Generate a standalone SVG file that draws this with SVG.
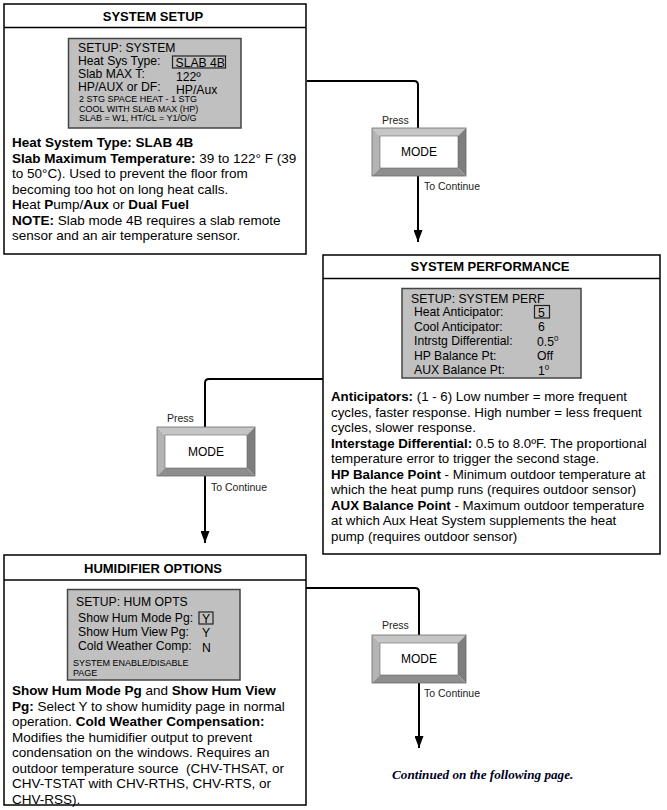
<svg xmlns="http://www.w3.org/2000/svg" width="667" height="810" viewBox="0 0 667 810">
<style>
text{font-family:"Liberation Sans",Arial,sans-serif;fill:#000}
.box{fill:#fff;stroke:#000;stroke-width:1.5}
.lcd{fill:#c0c0c0;stroke:#444;stroke-width:1.5}
.sel{fill:none;stroke:#222;stroke-width:1.2}
.ttl{font-size:13px;font-weight:bold;text-anchor:middle}
.body{font-size:13.5px}
.bodyp{font-size:13.3px}
.b{font-weight:bold}
.l{font-size:12.2px}
.s{font-size:9px}
.lab{font-size:10.5px;fill:#222}
.mode{font-size:12px;text-anchor:middle}
.bt{fill:#c6c6c6}.bl{fill:#b4b4b4}.br{fill:#7e7e7e}.bb{fill:#8e8e8e}
.bo{fill:none;stroke:#6a6a6a;stroke-width:0.8}
.bi{fill:#fff;stroke:#666;stroke-width:0.6}
.conn{fill:none;stroke:#000;stroke-width:2}
.cont{font-family:"Liberation Serif","Times New Roman",serif;font-size:13.2px;font-weight:bold;font-style:italic;fill:#000022}
</style>
<defs>
<marker id="arr" markerUnits="userSpaceOnUse" markerWidth="9" markerHeight="12" refX="4.5" refY="12" orient="0" viewBox="0 0 9 12">
<path d="M0,0 L9,0 L4.5,12 Z" fill="#000"/>
</marker>
</defs>

<g id="connectors">
<path class="conn" d="M307 81 H414 Q418 81 418 85 V242" marker-end="url(#arr)"/>
<path class="conn" d="M323 379 H209 Q205 379 205 383 V543" marker-end="url(#arr)"/>
<path class="conn" d="M306 588 H415 Q419 588 419 592 V748" marker-end="url(#arr)"/>
</g>

<g id="system-setup">
<rect class="box" x="4" y="4" width="302" height="250"/>
<line x1="4" y1="27.5" x2="306" y2="27.5" stroke="#000" stroke-width="1.5"/>
<text class="ttl" x="153" y="21">SYSTEM SETUP</text>
<rect class="lcd" x="68.5" y="38.5" width="172.5" height="89.5"/>
<text class="l" x="78" y="52">SETUP: SYSTEM</text>
<text class="l" x="78" y="65">Heat Sys Type:</text>
<rect class="sel" x="172.5" y="56" width="53" height="12"/>
<text class="l" x="175.5" y="66.5">SLAB 4B</text>
<text class="l" x="78" y="78">Slab MAX T:</text>
<text class="l" x="176" y="81">122º</text>
<text class="l" x="78" y="90.5">HP/AUX or DF:</text>
<text class="l" x="176" y="93.5">HP/Aux</text>
<text class="s" x="79" y="102">2 STG SPACE HEAT - 1 STG</text>
<text class="s" x="79" y="111.5">COOL WITH SLAB MAX (HP)</text>
<text class="s" x="79" y="121">SLAB = W1, HT/CL = Y1/O/G</text>
<text class="body" x="12" y="147"><tspan class="b">Heat System Type: SLAB 4B</tspan></text>
<text class="body" x="12" y="162.5"><tspan class="b">Slab Maximum Temperature:</tspan> 39 to 122° F (39</text>
<text class="body" x="12" y="178">to 50°C). Used to prevent the floor from</text>
<text class="body" x="12" y="193.5">becoming too hot on long heat calls.</text>
<text class="body" x="12" y="209"><tspan class="b">H</tspan>eat <tspan class="b">P</tspan>ump/<tspan class="b">Aux</tspan> or <tspan class="b">Dual Fuel</tspan></text>
<text class="body" x="12" y="224.5"><tspan class="b">NOTE:</tspan> Slab mode 4B requires a slab remote</text>
<text class="body" x="12" y="240">sensor and an air temperature sensor.</text>
</g>

<g id="mode-button-1">
<polygon class="bt" points="372,128 466,128 458,136 380,136"/>
<polygon class="bl" points="372,128 380,136 380,168 372,176"/>
<polygon class="br" points="466,128 466,176 458,168 458,136"/>
<polygon class="bb" points="372,176 466,176 458,168 380,168"/>
<rect class="bo" x="372" y="128" width="94" height="48"/>
<rect class="bi" x="380" y="136" width="78" height="32"/>
<text class="mode" x="419" y="156">MODE</text>
<text class="lab" x="382" y="124">Press</text>
<text class="lab" x="424" y="190">To Continue</text>
</g>

<g id="system-performance">
<rect class="box" x="323" y="255" width="337" height="299"/>
<line x1="323" y1="278.5" x2="660" y2="278.5" stroke="#000" stroke-width="1.5"/>
<text class="ttl" x="490" y="271">SYSTEM PERFORMANCE</text>
<rect class="lcd" x="402" y="288.5" width="179" height="89.5"/>
<text class="l" x="411" y="303">SETUP: SYSTEM PERF</text>
<text class="l" x="414" y="316">Heat Anticipator:</text>
<rect class="sel" x="534.5" y="305.5" width="15" height="12.5"/>
<text class="l" x="538" y="316.5">5</text>
<text class="l" x="414" y="330.5">Cool Anticipator:</text>
<text class="l" x="538" y="331">6</text>
<text class="l" x="414" y="345">Intrstg Differential:</text>
<text class="l" x="537" y="345.5">0.5<tspan font-size="8" dy="-5">0</tspan></text>
<text class="l" x="414" y="359.5">HP Balance Pt:</text>
<text class="l" x="537" y="360">Off</text>
<text class="l" x="414" y="374">AUX Balance Pt:</text>
<text class="l" x="538" y="374.5">1<tspan font-size="8" dy="-5">0</tspan></text>
<text class="bodyp" x="331" y="401"><tspan class="b">Anticipators:</tspan> (1 - 6) Low number = more frequent</text>
<text class="bodyp" x="331" y="416.5">cycles, faster response. High number = less frequent</text>
<text class="bodyp" x="331" y="432">cycles, slower response.</text>
<text class="bodyp" x="331" y="447.5"><tspan class="b">Interstage Differential:</tspan> 0.5 to 8.0ºF. The proportional</text>
<text class="bodyp" x="331" y="463">temperature error to trigger the second stage.</text>
<text class="bodyp" x="331" y="478.5"><tspan class="b">HP Balance Point</tspan> - Minimum outdoor temperature at</text>
<text class="bodyp" x="331" y="494">which the heat pump runs (requires outdoor sensor)</text>
<text class="bodyp" x="331" y="509.5"><tspan class="b">AUX Balance Point</tspan> - Maximum outdoor temperature</text>
<text class="bodyp" x="331" y="525">at which Aux Heat System supplements the heat</text>
<text class="bodyp" x="331" y="540.5">pump (requires outdoor sensor)</text>
</g>

<g id="mode-button-2">
<polygon class="bt" points="157,427 255,427 247,435 165,435"/>
<polygon class="bl" points="157,427 165,435 165,468 157,476"/>
<polygon class="br" points="255,427 255,476 247,468 247,435"/>
<polygon class="bb" points="157,476 255,476 247,468 165,468"/>
<rect class="bo" x="157" y="427" width="98" height="49"/>
<rect class="bi" x="165" y="435" width="82" height="33"/>
<text class="mode" x="206" y="455.5">MODE</text>
<text class="lab" x="167" y="422">Press</text>
<text class="lab" x="211" y="491">To Continue</text>
</g>

<g id="humidifier-options">
<rect class="box" x="4" y="555" width="302" height="250"/>
<line x1="4" y1="580" x2="306" y2="580" stroke="#000" stroke-width="1.5"/>
<text class="ttl" x="153" y="573">HUMIDIFIER OPTIONS</text>
<rect class="lcd" x="67.5" y="589.5" width="172.5" height="90.5"/>
<text class="l" x="76" y="606">SETUP: HUM OPTS</text>
<text class="l" x="78" y="621.5">Show Hum Mode Pg:</text>
<rect class="sel" x="199" y="612" width="14" height="12"/>
<text class="l" x="202" y="622.5">Y</text>
<text class="l" x="78" y="635.5">Show Hum View Pg:</text>
<text class="l" x="202" y="637">Y</text>
<text class="l" x="78" y="650">Cold Weather Comp:</text>
<text class="l" x="202" y="651.5">N</text>
<text class="s" x="73" y="665.5">SYSTEM ENABLE/DISABLE</text>
<text class="s" x="73" y="676">PAGE</text>
<text class="body" x="12" y="695"><tspan class="b">Show Hum Mode Pg</tspan> and <tspan class="b">Show Hum View</tspan></text>
<text class="body" x="12" y="710.5"><tspan class="b">Pg:</tspan> Select Y to show humidity page in normal</text>
<text class="body" x="12" y="726">operation. <tspan class="b">Cold Weather Compensation:</tspan></text>
<text class="body" x="12" y="741.5">Modifies the humidifier output to prevent</text>
<text class="body" x="12" y="757">condensation on the windows. Requires an</text>
<text class="body" x="12" y="772.5" xml:space="preserve">outdoor temperature source  (CHV-THSAT, or</text>
<text class="body" x="12" y="788">CHV-TSTAT with CHV-RTHS, CHV-RTS, or</text>
<text class="body" x="12" y="803.5">CHV-RSS).</text>
</g>

<g id="mode-button-3">
<polygon class="bt" points="372,635 466,635 458,643 380,643"/>
<polygon class="bl" points="372,635 380,643 380,675 372,683"/>
<polygon class="br" points="466,635 466,683 458,675 458,643"/>
<polygon class="bb" points="372,683 466,683 458,675 380,675"/>
<rect class="bo" x="372" y="635" width="94" height="48"/>
<rect class="bi" x="380" y="643" width="78" height="32"/>
<text class="mode" x="419" y="663">MODE</text>
<text class="lab" x="382" y="629">Press</text>
<text class="lab" x="424" y="697">To Continue</text>
</g>

<g id="continued">
<text class="cont" x="392" y="779">Continued on the following page.</text>
</g>
</svg>
